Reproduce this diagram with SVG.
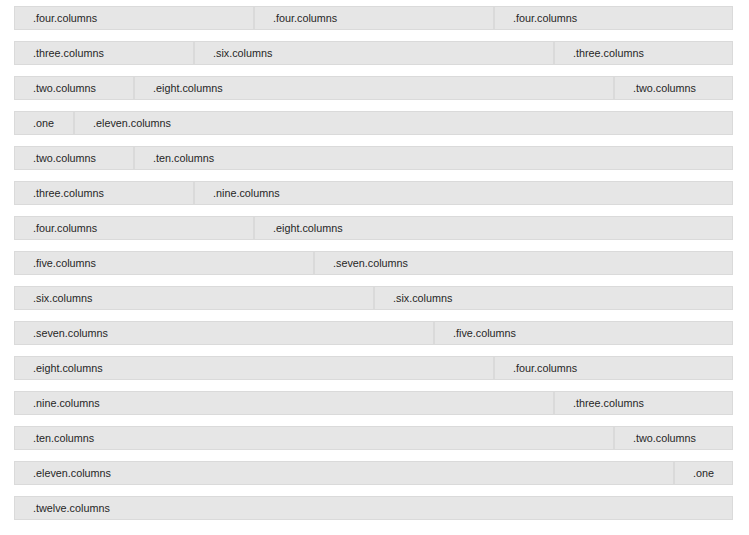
<svg xmlns="http://www.w3.org/2000/svg" width="749" height="535" viewBox="0 0 749 535">
<style>
.c{fill:#e6e6e6;stroke:#dadada;stroke-width:1}
.t{font-family:"Liberation Sans",Arial,sans-serif;font-size:10.8px;fill:#262626}
</style>
<rect width="749" height="535" fill="#fff"/>
<g id="row1">
<g id="r1c1"><rect class="c" x="14.5" y="6.5" width="239" height="23"/><text class="t" x="33" y="22">.four.columns</text></g>
<g id="r1c2"><rect class="c" x="254.5" y="6.5" width="239" height="23"/><text class="t" x="273" y="22">.four.columns</text></g>
<g id="r1c3"><rect class="c" x="494.5" y="6.5" width="238" height="23"/><text class="t" x="513" y="22">.four.columns</text></g>
</g>
<g id="row2">
<g id="r2c1"><rect class="c" x="14.5" y="41.5" width="179" height="23"/><text class="t" x="33" y="57">.three.columns</text></g>
<g id="r2c2"><rect class="c" x="194.5" y="41.5" width="359" height="23"/><text class="t" x="213" y="57">.six.columns</text></g>
<g id="r2c3"><rect class="c" x="554.5" y="41.5" width="178" height="23"/><text class="t" x="573" y="57">.three.columns</text></g>
</g>
<g id="row3">
<g id="r3c1"><rect class="c" x="14.5" y="76.5" width="119" height="23"/><text class="t" x="33" y="92">.two.columns</text></g>
<g id="r3c2"><rect class="c" x="134.5" y="76.5" width="479" height="23"/><text class="t" x="153" y="92">.eight.columns</text></g>
<g id="r3c3"><rect class="c" x="614.5" y="76.5" width="118" height="23"/><text class="t" x="633" y="92">.two.columns</text></g>
</g>
<g id="row4">
<g id="r4c1"><rect class="c" x="14.5" y="111.5" width="59" height="23"/><text class="t" x="33" y="127">.one</text></g>
<g id="r4c2"><rect class="c" x="74.5" y="111.5" width="658" height="23"/><text class="t" x="93" y="127">.eleven.columns</text></g>
</g>
<g id="row5">
<g id="r5c1"><rect class="c" x="14.5" y="146.5" width="119" height="23"/><text class="t" x="33" y="162">.two.columns</text></g>
<g id="r5c2"><rect class="c" x="134.5" y="146.5" width="598" height="23"/><text class="t" x="153" y="162">.ten.columns</text></g>
</g>
<g id="row6">
<g id="r6c1"><rect class="c" x="14.5" y="181.5" width="179" height="23"/><text class="t" x="33" y="197">.three.columns</text></g>
<g id="r6c2"><rect class="c" x="194.5" y="181.5" width="538" height="23"/><text class="t" x="213" y="197">.nine.columns</text></g>
</g>
<g id="row7">
<g id="r7c1"><rect class="c" x="14.5" y="216.5" width="239" height="23"/><text class="t" x="33" y="232">.four.columns</text></g>
<g id="r7c2"><rect class="c" x="254.5" y="216.5" width="478" height="23"/><text class="t" x="273" y="232">.eight.columns</text></g>
</g>
<g id="row8">
<g id="r8c1"><rect class="c" x="14.5" y="251.5" width="299" height="23"/><text class="t" x="33" y="267">.five.columns</text></g>
<g id="r8c2"><rect class="c" x="314.5" y="251.5" width="418" height="23"/><text class="t" x="333" y="267">.seven.columns</text></g>
</g>
<g id="row9">
<g id="r9c1"><rect class="c" x="14.5" y="286.5" width="359" height="23"/><text class="t" x="33" y="302">.six.columns</text></g>
<g id="r9c2"><rect class="c" x="374.5" y="286.5" width="358" height="23"/><text class="t" x="393" y="302">.six.columns</text></g>
</g>
<g id="row10">
<g id="r10c1"><rect class="c" x="14.5" y="321.5" width="419" height="23"/><text class="t" x="33" y="337">.seven.columns</text></g>
<g id="r10c2"><rect class="c" x="434.5" y="321.5" width="298" height="23"/><text class="t" x="453" y="337">.five.columns</text></g>
</g>
<g id="row11">
<g id="r11c1"><rect class="c" x="14.5" y="356.5" width="479" height="23"/><text class="t" x="33" y="372">.eight.columns</text></g>
<g id="r11c2"><rect class="c" x="494.5" y="356.5" width="238" height="23"/><text class="t" x="513" y="372">.four.columns</text></g>
</g>
<g id="row12">
<g id="r12c1"><rect class="c" x="14.5" y="391.5" width="539" height="23"/><text class="t" x="33" y="407">.nine.columns</text></g>
<g id="r12c2"><rect class="c" x="554.5" y="391.5" width="178" height="23"/><text class="t" x="573" y="407">.three.columns</text></g>
</g>
<g id="row13">
<g id="r13c1"><rect class="c" x="14.5" y="426.5" width="599" height="23"/><text class="t" x="33" y="442">.ten.columns</text></g>
<g id="r13c2"><rect class="c" x="614.5" y="426.5" width="118" height="23"/><text class="t" x="633" y="442">.two.columns</text></g>
</g>
<g id="row14">
<g id="r14c1"><rect class="c" x="14.5" y="461.5" width="659" height="23"/><text class="t" x="33" y="477">.eleven.columns</text></g>
<g id="r14c2"><rect class="c" x="674.5" y="461.5" width="58" height="23"/><text class="t" x="693" y="477">.one</text></g>
</g>
<g id="row15">
<g id="r15c1"><rect class="c" x="14.5" y="496.5" width="718" height="23"/><text class="t" x="33" y="512">.twelve.columns</text></g>
</g>
<g id="connectors"/>
</svg>
